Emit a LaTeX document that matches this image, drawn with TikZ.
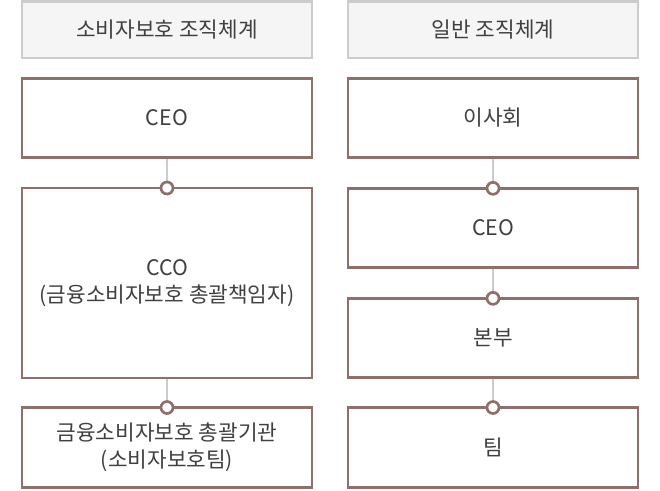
\documentclass[tikz,border=0pt]{standalone}
\usepackage{fontspec}
\setmainfont{Noto Sans CJK KR}
\usetikzlibrary{backgrounds}

\definecolor{boxline}{HTML}{8E6F6B}
\definecolor{headline}{HTML}{CCCCCC}
\definecolor{headfill}{HTML}{F5F5F5}
\definecolor{linkgray}{HTML}{CCCCCC}
\definecolor{txt}{HTML}{404040}

\begin{document}
\begin{tikzpicture}[x=0.75pt, y=-0.75pt,
    every node/.style={font=\fontsize{16pt}{20pt}\selectfont, text=txt, align=center},
    head/.style={draw=headline, fill=headfill, line width=2pt, outer sep=0pt,
      minimum width=217.5pt, minimum height=42.5pt},
    orgbox/.style={draw=boxline, fill=white, line width=2pt, outer sep=0pt,
      minimum width=217.5pt, minimum height=#1},
    orgbox/.default=59.5pt,
    link/.style={draw=linkgray, line width=2pt},
    joint/.style={circle, draw=boxline, fill=white, line width=2pt,
      minimum size=9pt, inner sep=0pt}]

  \useasboundingbox (0,0) rectangle (660,490);

  % left column
  \node[head] (hdrA) at (167,29.7) {소비자보호 조직체계};
  \node[orgbox] (ceoA) at (167,118) {CEO};
  \node[orgbox=142.5pt] (ccoA) at (167,283) {CCO\\(금융소비자보호 총괄책임자)};
  \node[orgbox=60pt] (teamA) at (167,447.5) {금융소비자보호 총괄기관\\(소비자보호팀)};

  % right column
  \node[head] (hdrB) at (493,29.7) {일반 조직체계};
  \node[orgbox] (boardB) at (493,118) {이사회};
  \node[orgbox] (ceoB) at (493,228) {CEO};
  \node[orgbox] (hqB) at (493,338) {본부};
  \node[orgbox=60pt] (teamB) at (493,447.5) {팀};

  \begin{scope}[on background layer]
    \draw[link] (ceoA.south) -- (ccoA.north);
    \draw[link] (ccoA.south) -- (teamA.north);
    \draw[link] (boardB.south) -- (ceoB.north);
    \draw[link] (ceoB.south) -- (hqB.north);
    \draw[link] (hqB.south) -- (teamB.north);
  \end{scope}

  \node[joint] (jA1) at (ccoA.north) {};
  \node[joint] (jA2) at (teamA.north) {};
  \node[joint] (jB1) at (ceoB.north) {};
  \node[joint] (jB2) at (hqB.north) {};
  \node[joint] (jB3) at (teamB.north) {};

\end{tikzpicture}
\end{document}
